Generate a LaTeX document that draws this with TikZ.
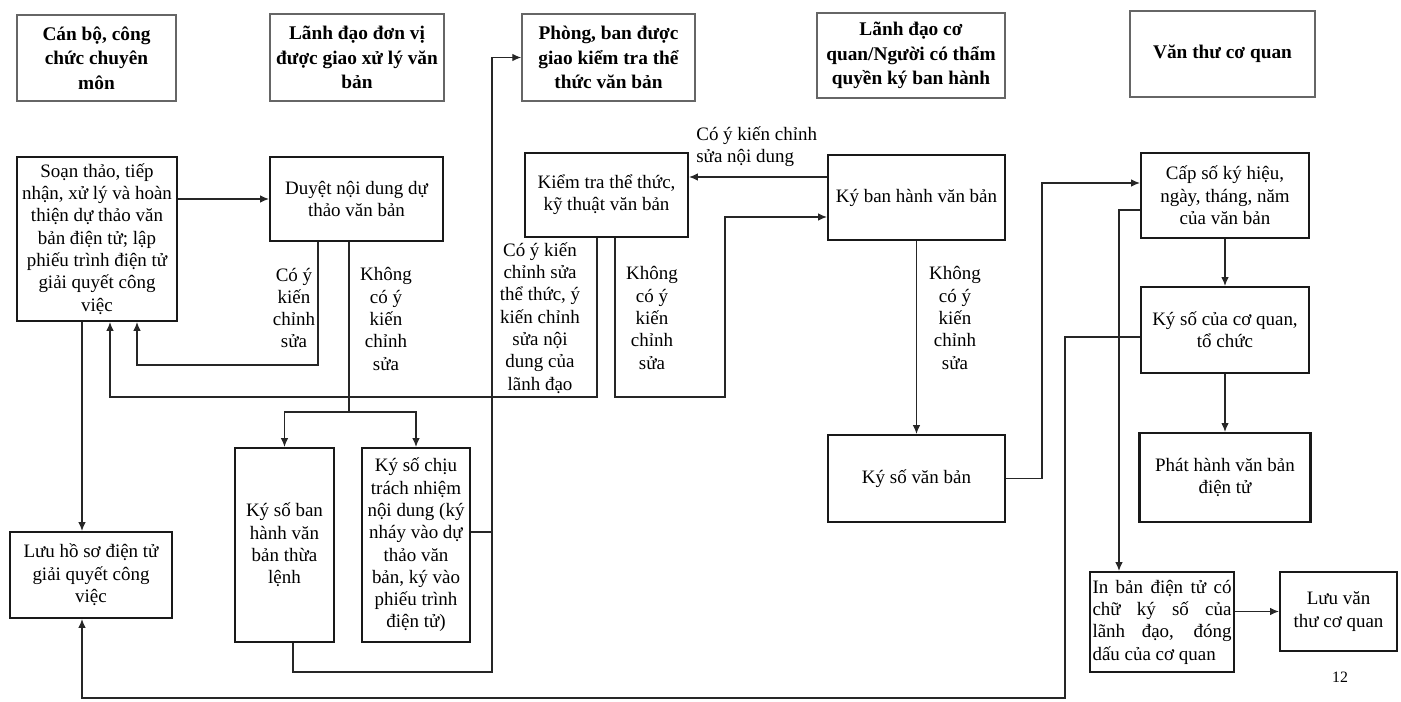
\documentclass[tikz,border=0pt]{standalone}
\usepackage{fontspec}
\setmainfont{Liberation Serif}
\usepackage{tikz}
\usetikzlibrary{arrows.meta,positioning}

\begin{document}
\begin{tikzpicture}[
    x=0.02cm, y=-0.02cm,
    node distance=2cm,
    >={Latex[length=5pt,width=4.2pt]},
    font=\fontsize{10.8}{12.7}\selectfont,
    line/.style={
        draw=black!85,
        line width=0.6pt
    },
    head/.style={
        rectangle,
        draw=black!60,
        line width=0.9pt,
        align=center,
        inner sep=1pt,
        font=\fontsize{11}{14}\selectfont\bfseries
    },
    stepbox/.style={
        rectangle,
        draw=black!90,
        line width=1.2pt,
        align=center,
        inner sep=1pt,
        fill=white
    },
    note/.style={
        align=center,
        inner sep=0pt
    }
  ]
  \useasboundingbox (0,0) rectangle (1401,702);

  % column headers
  \node [head, minimum width=3.18cm, minimum height=1.72cm] (can) at (96.5,58) {Cán bộ, công\\chức chuyên\\môn};
  \node [head, minimum width=3.48cm, minimum height=1.74cm] (lanhdv) at (357,57.5) {Lãnh đạo đơn vị\\được giao xử lý văn\\bản};
  \node [head, minimum width=3.46cm, minimum height=1.74cm] (phong) at (608.5,57.5) {Phòng, ban được\\giao kiểm tra thể\\thức văn bản};
  \node [head, minimum width=3.76cm, minimum height=1.70cm] (lanhcq) at (911,55.5) {Lãnh đạo cơ\\quan/Người có thẩm\\quyền ký ban hành};
  \node [head, minimum width=3.70cm, minimum height=1.72cm] (vanthu) at (1222.5,54) {Văn thư cơ quan};

  % the steps
  \node [stepbox, minimum width=3.2cm, minimum height=3.28cm] (soan) at (97,239) {Soạn thảo, tiếp\\nhận, xử lý và hoàn\\thiện dự thảo văn\\bản điện tử; lập\\phiếu trình điện tử\\giải quyết công\\việc};
  \node [stepbox, minimum width=3.46cm, minimum height=1.68cm] (duyet) at (356.5,199) {Duyệt nội dung dự\\thảo văn bản};
  \node [stepbox, minimum width=3.26cm, minimum height=1.68cm] (kiemtra) at (606.5,195) {Kiểm tra thể thức,\\kỹ thuật văn bản};
  \node [stepbox, minimum width=3.54cm, minimum height=1.70cm] (kyban) at (916.5,197.5) {Ký ban hành văn bản};
  \node [stepbox, minimum width=3.36cm, minimum height=1.70cm] (capso) at (1225,195.5) {Cấp số ký hiệu,\\ngày, tháng, năm\\của văn bản};
  \node [stepbox, minimum width=3.36cm, minimum height=1.72cm, below of=capso, node distance=2.69cm] (kysocq) {Ký số của cơ quan,\\tổ chức};
  \node [stepbox, minimum width=3.42cm, minimum height=1.78cm, below of=kysocq, node distance=2.95cm] (phathanh) {Phát hành văn bản\\điện tử};
  \node [stepbox, minimum width=3.54cm, minimum height=1.74cm] (kysovb) at (916.5,478.5) {Ký số văn bản};
  \node [stepbox, minimum width=1.98cm, minimum height=3.88cm] (thualenh) at (284.5,545) {Ký số ban\\hành văn\\bản thừa\\lệnh};
  \node [stepbox, minimum width=2.16cm, minimum height=3.88cm] (chiutn) at (416,545) {Ký số chịu\\trách nhiệm\\nội dung (ký\\nháy vào dự\\thảo văn\\bản, ký vào\\phiếu trình\\điện tử)};
  \node [stepbox, minimum width=3.24cm, minimum height=1.72cm] (luuhs) at (91,575) {Lưu hồ sơ điện tử\\giải quyết công\\việc};
  \node [stepbox, minimum width=2.88cm, minimum height=2.0cm, text width=2.78cm, align=justify] (inban) at (1162,622) {In bản điện tử có\linebreak chữ ký số của\linebreak lãnh đạo, đóng\linebreak dấu của cơ quan};
  \node [stepbox, minimum width=2.34cm, minimum height=1.58cm] (luuvt) at (1338.5,611.5) {Lưu văn\\thư cơ quan};
  \node [note, font=\fontsize{9}{11}\selectfont] (trang) at (1340,677) {12};

  % labels on the connectors
  \node [note] (cosua1) at (294,308) {Có ý\\kiến\\chỉnh\\sửa};
  \node [note] (khong1) at (386,319) {Không\\có ý\\kiến\\chỉnh\\sửa};
  \node [note] (cosua2) at (540,318) {Có ý kiến\\chỉnh sửa\\thể thức, ý\\kiến chỉnh\\sửa nội\\dung của\\lãnh đạo};
  \node [note] (khong2) at (652,318) {Không\\có ý\\kiến\\chỉnh\\sửa};
  \node [note, anchor=west, align=left] (cosua3) at (696,147) {Có ý kiến chỉnh\\sửa nội dung};
  \node [note] (khong3) at (955,318) {Không\\có ý\\kiến\\chỉnh\\sửa};

  % bend points
  \coordinate (r1) at (318,365);
  \coordinate (r1a) at (137,365);
  \coordinate (sp) at (349,412);
  \coordinate (up) at (492,672);
  \coordinate (jn) at (492,532);
  \coordinate (ib) at (293,672);
  \coordinate (r2) at (597,397);
  \coordinate (r2a) at (110,397);
  \coordinate (k1) at (615,397);
  \coordinate (k2) at (725,397);
  \coordinate (k3) at (725,217);
  \coordinate (d1) at (760,177);
  \coordinate (e1) at (1042,183);
  \coordinate (c1) at (1119,210);
  \coordinate (f1) at (1065,337);
  \coordinate (f2) at (1065,698);
  \coordinate (f3) at (82,698);

  \draw [line, ->] (duyet.west -| soan.east) -- (duyet.west);
  \draw [line, ->] (duyet.south -| r1) -- (r1) -- (r1a) -- (r1a |- soan.south);
  \draw [line] (duyet.south -| sp) -- (sp);
  \draw [line, ->] (sp) -| (thualenh);
  \draw [line, ->] (sp) -| (chiutn);
  \draw [line, ->] (thualenh.south -| ib) -- (ib) -- (up) |- (phong.west);
  \draw [line] (jn -| chiutn.east) -- (jn);
  \draw [line, ->] (kiemtra.south -| r2) -- (r2) -- (r2a) -- (r2a |- soan.south);
  \draw [line, ->] (kiemtra.south -| k1) -- (k1) -- (k2) -- (k3) -- (k3 -| kyban.west);
  \draw [line, ->] (d1 -| kyban.west) -- (d1 -| kiemtra.east);
  \draw [line, ->] (kyban) -- (kysovb);
  \draw [line, ->] (kysovb.east) -| (e1) -- (e1 -| capso.west);
  \draw [line, ->] (capso) -- (kysocq);
  \draw [line, ->] (kysocq) -- (phathanh);
  \draw [line, ->] (c1 -| capso.west) -- (c1) -- (c1 |- inban.north);
  \draw [line, ->] (f1 -| kysocq.west) -- (f1) -- (f2) -- (f3) -- (f3 |- luuhs.south);
  \draw [line, ->] (soan.south -| f3) -- (luuhs.north -| f3);
  \draw [line, ->] (luuvt.west -| inban.east) -- (luuvt.west);

\end{tikzpicture}
\end{document}
